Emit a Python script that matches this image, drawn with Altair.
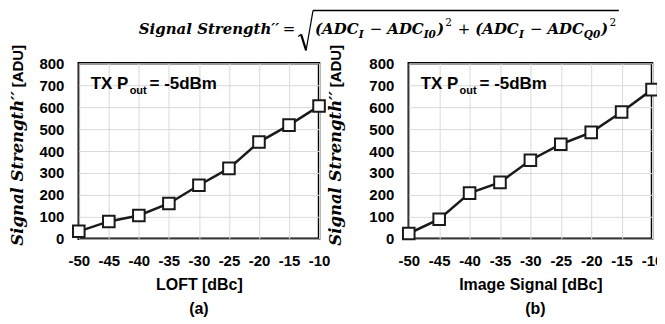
import altair as alt
import pandas as pd

# ---------------- data ----------------
x_db = [-50, -45, -40, -35, -30, -25, -20, -15, -10]
loft_strength = [34, 79, 106, 161, 244, 321, 441, 518, 605]
image_strength = [24, 89, 208, 257, 358, 431, 485, 578, 680]
x_ticks = [-50, -45, -40, -35, -30, -25, -20, -15, -10]
y_ticks = [0, 100, 200, 300, 400, 500, 600, 700, 800]
x_titles = ["LOFT [dBc]", "Image Signal [dBc]"]
panel_tags = ["(a)", "(b)"]
ylab_main = "Signal Strength′′"
ylab_unit = "[ADU]"
note_main = "TX P"
note_sub = "out"
note_tail = "= -5dBm"
formula_lhs = "Signal Strength′′"
formula_eq = "="
formula_texts = ["(ADC", "I", "−", "ADC", "I0", ")", "2", "+", "(ADC", "I", "−", "ADC", "Q0", ")", "2"]
formula_roles = ["main", "sub", "op", "main", "sub", "main", "sup", "op", "main", "sub", "op", "main", "sub", "main", "sup"]

SANS = "Liberation Sans"
SERIF = "DejaVu Serif"
dummy = pd.DataFrame({"k": [0]})


def txt(s, x, y, size, font, style="normal", weight="bold", align="left",
        angle=0, baseline="alphabetic"):
    return alt.Chart(dummy).mark_text(
        text=s, font=font, fontSize=size, fontStyle=style, fontWeight=weight,
        align=align, baseline=baseline, angle=angle, color="black"
    ).encode(x=alt.value(x), y=alt.value(y))


def seg(x1, y1, x2, y2, w):
    return alt.Chart(dummy).mark_rule(color="black", strokeWidth=w).encode(
        x=alt.value(x1), y=alt.value(y1), x2=alt.value(x2), y2=alt.value(y2))


# ---------------- formula (placed above the left panel, panel-relative px) ----------------
EM = {"(": 0.50, ")": 0.50, "A": 0.80, "D": 0.85, "C": 0.78, "I": 0.47,
      "Q": 0.85, "0": 0.70, "2": 0.70, "−": 0.84, "+": 0.84}
F_MAIN = 15
F_SUB = 10.5
BASE = -29


def width(s, size):
    return sum(EM.get(c, 0.7) for c in s) * size


formula_layers = [
    txt(formula_lhs, 201, BASE, F_MAIN, SERIF, style="italic", align="right"),
    txt(formula_eq, 211, BASE, F_MAIN, SERIF, weight="normal", align="center"),
]
cx = 237
for t, r in zip(formula_texts, formula_roles):
    if r == "main":
        formula_layers.append(txt(t, cx, BASE, F_MAIN, SERIF, style="italic"))
        cx += width(t, F_MAIN)
    elif r == "sub":
        formula_layers.append(txt(t, cx, BASE + 4, F_SUB, SERIF, style="italic"))
        cx += width(t, F_SUB) + 1
    elif r == "sup":
        formula_layers.append(txt(t, cx + 1, BASE - 8, F_SUB, SERIF, weight="normal"))
        cx += width(t, F_SUB) + 1
    else:
        cx += 5
        formula_layers.append(txt(t, cx, BASE, F_MAIN, SERIF, weight="normal"))
        cx += width(t, F_MAIN) + 5
formula_layers += [
    seg(220, -27, 223, -29, 1.2),
    seg(223, -29, 228, -13, 2.2),
    seg(228, -13, 235, -53, 1.2),
    seg(235, -53, cx + 2, -53, 1.5),
]


# ---------------- panels ----------------
def panel(vals, i, w, title_x, tag_dx, extra=None):
    df = pd.DataFrame({"x": x_db, "y": vals})
    xenc = alt.X("x:Q", scale=alt.Scale(domain=[-50, -10], nice=False, zero=False),
                 axis=alt.Axis(values=x_ticks, title=x_titles[i],
                               grid=True, gridColor="#d9d9d9", domain=False, ticks=False,
                               labelPadding=15, labelFont=SANS, labelFontSize=15,
                               labelFontWeight="bold", labelColor="black",
                               labelExpr="'' + datum.value", labelFlush=False,
                               titleFont=SANS, titleFontSize=16, titleFontWeight="bold",
                               titleColor="black", titlePadding=8))
    yenc = alt.Y("y:Q", scale=alt.Scale(domain=[0, 800], nice=False),
                 axis=alt.Axis(values=y_ticks, title=None, grid=True, gridColor="#d9d9d9",
                               domain=False, ticks=False, labelPadding=15, labelFont=SANS,
                               labelFontSize=15, labelFontWeight="bold", labelColor="black",
                               labelFlush=False))
    line = alt.Chart(df).mark_line(color="#1a1a1a", strokeWidth=2.5).encode(x=xenc, y=yenc)
    pts = alt.Chart(df).mark_point(shape="square", size=135, filled=True, fill="white",
                                   stroke="#1a1a1a", strokeWidth=2, opacity=1).encode(x=xenc, y=yenc)
    y0 = 28
    t1 = txt(ylab_main, title_x, y0, 16.5, SERIF, style="italic", align="right",
             angle=270, baseline="middle")
    t2 = txt(ylab_unit, title_x, y0 - 4, 15, SANS, align="left", angle=270, baseline="middle")
    n1 = txt(note_main, 12, 26, 17, SANS)
    n2 = txt(note_sub, 51, 31, 11, SANS)
    n3 = txt(note_tail, 71, 26, 17, SANS)
    tag = txt(panel_tags[i], w / 2 + tag_dx, 251, 16, SANS, align="center")
    layers = [line, pts, t1, t2, n1, n2, n3, tag] + (extra or [])
    return alt.layer(*layers).properties(width=w, height=176)


pa = panel(loft_strength, 0, 241, -61, 0, formula_layers)
pb = panel(image_strength, 1, 244, -73, 5)

chart = alt.hconcat(pa, pb, spacing=90, bounds="flush").properties(
    padding={"left": 0, "top": 0, "right": -8, "bottom": -1}
).configure_view(stroke="black", strokeWidth=2.5)

chart.save("out.html", embed_options={"renderer": "svg", "actions": False})
